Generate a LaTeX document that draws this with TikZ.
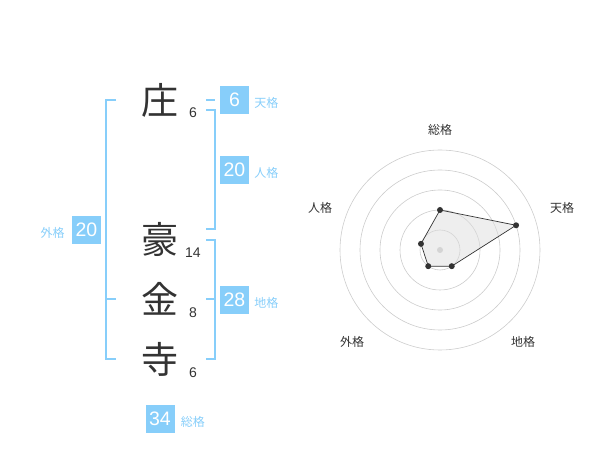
\documentclass[tikz,border=0pt]{standalone}
\usepackage{fontspec}
\setmainfont{Liberation Sans}
\newfontfamily\jpfont{Noto Sans CJK JP}
\usepackage{tikz}
\usetikzlibrary{positioning}
\definecolor{skyline}{RGB}{135, 206, 250}
\definecolor{inkgray}{RGB}{51, 51, 51}
\definecolor{ringgray}{RGB}{204, 204, 204}
\definecolor{areagray}{RGB}{221, 221, 221}

\begin{document}
\begin{tikzpicture}[
    x=1pt, y=-1pt,
    kanji/.style={inner sep=0pt, text=inkgray, font=\jpfont\fontsize{37}{37}\selectfont},
    strokes/.style={inner sep=0pt, text=inkgray, font=\fontsize{14}{14}\selectfont},
    valbox/.style={rectangle, fill=skyline, text=white, minimum width=29pt, minimum height=28pt, inner sep=0pt, font=\fontsize{19.5}{19.5}\selectfont},
    kaku/.style={inner sep=0pt, text=skyline, yshift=-3pt, font=\jpfont\fontsize{12}{12}\selectfont},
    bracket/.style={draw=skyline, line width=2pt},
    ring/.style={draw=ringgray, line width=0.6pt},
    axislbl/.style={inner sep=0pt, text=inkgray, font=\jpfont\fontsize{12}{12}\selectfont},
    dot/.style={circle, fill=inkgray, inner sep=0pt, minimum size=6pt}
]
\useasboundingbox (0,0) rectangle (600,470);

% Name characters
\node[kanji] (sho) at (160,100) {庄};
\node[kanji] (go) at (160,239) {豪};
\node[kanji] (kin) at (160,299) {金};
\node[kanji] (ji) at (160,359) {寺};

% Stroke counts
\node[strokes] (shoN) at (193,113) {6};
\node[strokes] (goN) at (193,253) {14};
\node[strokes] (kinN) at (193,313) {8};
\node[strokes] (jiN) at (193,373) {6};

% Value boxes
\node[valbox] (ten) at (234.5,100) {6};
\node[valbox] (jin) at (234.5,170) {20};
\node[valbox] (chi) at (234.5,300) {28};
\node[valbox] (gai) at (86.5,230) {20};
\node[valbox] (so) at (160,419) {34};

\node[kaku, right=5pt of ten] (tenL) {天格};
\node[kaku, right=5pt of jin] (jinL) {人格};
\node[kaku, right=5pt of chi] (chiL) {地格};
\node[kaku, left=7pt of gai] (gaiL) {外格};
\node[kaku, right=6pt of so] (soL) {総格};

% Brackets
\draw[bracket] (206,100) -- (215,100);
\draw[bracket] (206,110) -- (215,110) -- (215,229) -- (206,229);
\draw[bracket] (206,240) -- (215,240) -- (215,359) -- (206,359);
\draw[bracket] (206,299) -- (215,299);
\draw[bracket] (116,100) -- (106,100) -- (106,359) -- (116,359);
\draw[bracket] (106,299) -- (116,299);

% Radar chart
\begin{scope}[shift={(440,250)}, y=1pt]
  \foreach \r in {20,40,...,100}
    \draw[ring] (0,0) circle[radius=\r];
  \fill[ringgray] (0,0) circle[radius=3];
  \coordinate (pSo) at (90:40);
  \coordinate (pTen) at (18:80);
  \coordinate (pChi) at (-54:20);
  \coordinate (pGai) at (-126:20);
  \coordinate (pJin) at (162:20);
  \filldraw[fill=areagray, fill opacity=0.5, draw=inkgray, line width=0.7pt]
    (pSo) -- (pTen) -- (pChi) -- (pGai) -- (pJin) -- cycle;
  \foreach \p in {pSo,pTen,pChi,pGai,pJin}
    \node[dot] at (\p) {};
  \node[axislbl] (axSo) at (0,120) {総格};
  \node[axislbl] (axTen) at (122,42) {天格};
  \node[axislbl] (axJin) at (-120,42) {人格};
  \node[axislbl] (axGai) at (-88,-92) {外格};
  \node[axislbl] (axChi) at (83,-92) {地格};
\end{scope}
\end{tikzpicture}
\end{document}
